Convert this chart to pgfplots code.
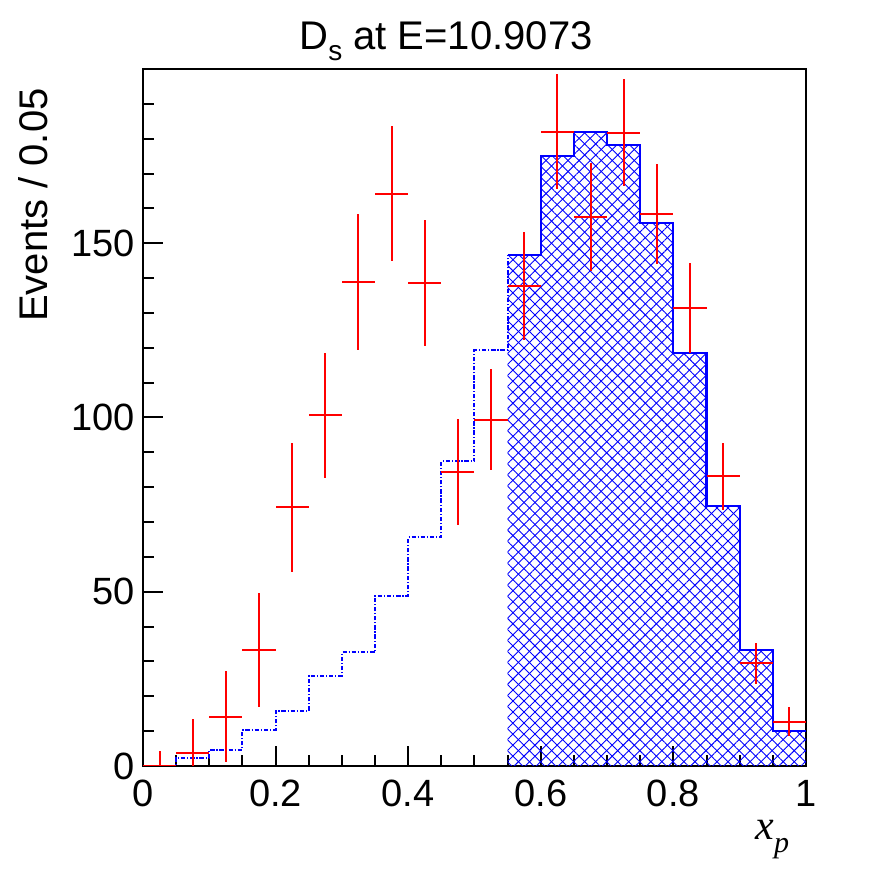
\documentclass[border=0pt]{standalone}
\usepackage{pgfplots}
\pgfplotsset{compat=1.18}
\usepackage{pgfplotstable}
\usepackage{fontspec}
\setmainfont{Liberation Sans}
\newfontfamily\timesfont{Liberation Serif}
\usetikzlibrary{patterns,patterns.meta}

\pgfplotstableread{
x y e
0.025 0 4.3
0.075 3.8 9.7
0.125 14.2 13
0.175 33.3 16.3
0.225 74.2 18.5
0.275 100.6 18
0.325 138.9 19.4
0.375 164.2 19.4
0.425 138.6 18
0.475 84.3 15.2
0.525 99.4 14.4
0.575 137.8 15.5
0.625 182.0 16.5
0.675 157.5 15.4
0.725 181.7 15.4
0.775 158.4 14.3
0.825 131.4 12.8
0.875 83.1 9.6
0.925 29.5 5.9
0.975 12.7 4.1
}\datatable

\pgfplotstableread{
x y
0.00 0.1
0.05 2.4
0.10 4.6
0.15 10.3
0.20 15.8
0.25 25.9
0.30 32.6
0.35 48.9
0.40 65.6
0.45 87.4
0.50 119.3
0.55 146.6
}\mclow

\pgfplotstableread{
x y
0.55 146.6
0.60 175.0
0.65 182.0
0.70 178.2
0.75 155.8
0.80 118.4
0.85 74.5
0.90 33.3
0.95 10.1
1.00 10.1
}\mchigh

\begin{document}
\begin{tikzpicture}
\begin{axis}[
  at={(0,0)}, anchor=south west,
  scale only axis, width=331.5pt, height=348.5pt,
  xmin=0, xmax=1, ymin=0, ymax=200,
  axis line style={line width=1pt, black},
  tick align=inside,
  xtick pos=bottom, ytick pos=left,
  xtick={0,0.2,0.4,0.6,0.8,1},
  xticklabels={0,0.2,0.4,0.6,0.8,1},
  minor xtick={0.05,0.1,0.15,0.25,0.3,0.35,0.45,0.5,0.55,0.65,0.7,0.75,0.85,0.9,0.95},
  ytick={0,50,100,150},
  yticklabels={0,50,100,150},
  minor ytick={10,20,30,40,60,70,80,90,110,120,130,140,160,170,180,190},
  major tick length=10pt, minor tick length=5.5pt,
  every tick/.style={black, line width=1pt},
  /pgf/number format/assume math mode=true,
  ticklabel style={font=\fontsize{19}{19}\selectfont},
  xticklabel style={anchor=base, inner sep=0pt, yshift=-20.5pt},
  yticklabel style={anchor=east, inner sep=0pt, xshift=-4pt},
  clip=true,
]
\addplot[draw=none, pattern={Lines[angle=45, distance=3.9pt, line width=0.45pt]}, pattern color=blue, const plot] table[x=x,y=y] {\mchigh} \closedcycle;
\addplot[draw=none, pattern={Lines[angle=-45, distance=3.9pt, line width=0.45pt]}, pattern color=blue, const plot] table[x=x,y=y] {\mchigh} \closedcycle;
\addplot[blue, line width=1pt, dash pattern=on 2.2pt off 0.9pt on 0.6pt off 0.9pt, const plot] table[x=x,y=y] {\mclow};
\addplot[blue, line width=1.1pt, const plot] table[x=x,y=y] {\mchigh};
\addplot[red, only marks, mark size=0pt, mark options={draw=none, fill=none},
  error bars/.cd, x dir=both, x fixed=0.025, y dir=both, y explicit,
  error mark=none, error bar style={red, line width=1pt}]
  table[x=x, y=y, y error=e] {\datatable};
\end{axis}
\node[anchor=base, font=\fontsize{20}{20}\selectfont] at (151.5pt,358.3pt)
  {D\raisebox{-0.28em}{\fontsize{14}{14}\selectfont s} at E=10.9073};
\node[anchor=base east, rotate=90, inner sep=0pt, font=\fontsize{20}{20}\selectfont] at (-47.5pt,339pt) {Events / 0.05};
\node[anchor=base west, inner sep=0pt, font=\timesfont\fontsize{21}{21}\selectfont] at (306pt,-37pt)
  {\textit{x}\raisebox{-0.3em}{\fontsize{15}{15}\selectfont\textit{p}}};
\pgfresetboundingbox
\path[use as bounding box] (-71.5pt,-53pt) rectangle (376.5pt,383pt);
\end{tikzpicture}
\end{document}
